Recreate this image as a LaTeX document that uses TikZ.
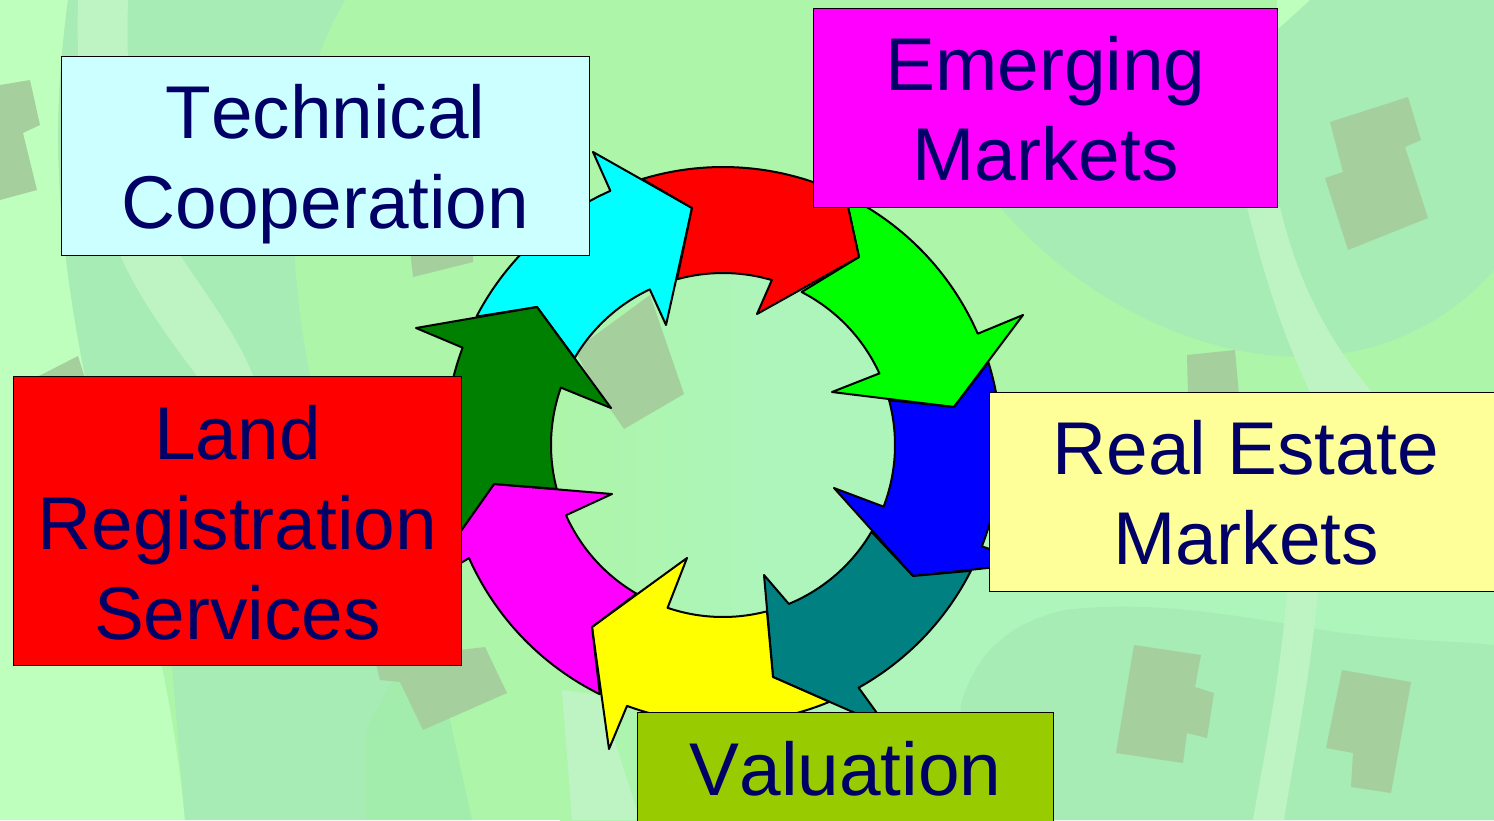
\documentclass[tikz,border=0pt]{standalone}
\usepackage{fontspec}
\setmainfont[Kerning=Off]{Liberation Sans}
\usetikzlibrary{calc}
\definecolor{bgbase}{HTML}{ADF5A9}
\definecolor{bgcentre}{HTML}{ADF5BA}
\definecolor{bglight}{HTML}{BEFFBE}
\definecolor{bglawn}{HTML}{A7EBB5}
\definecolor{bglawnb}{HTML}{A2EDAC}
\definecolor{bgroad}{HTML}{BEF3C4}
\definecolor{bghouse}{HTML}{A6CF9E}
\definecolor{ink}{HTML}{000066}
\definecolor{boxcyan}{HTML}{CCFFFF}
\definecolor{boxyellow}{HTML}{FFFF99}
\definecolor{boxolive}{HTML}{99CC00}
\definecolor{purered}{HTML}{FF0000}
\definecolor{puregreen}{HTML}{00FF00}
\definecolor{pureblue}{HTML}{0000FF}
\definecolor{purecyan}{HTML}{00FFFF}
\definecolor{puremagenta}{HTML}{FF00FF}
\definecolor{pureyellow}{HTML}{FFFF00}
\definecolor{darkgrn}{HTML}{008000}
\definecolor{tealc}{HTML}{008080}
\tikzset{
  arrowshape/.style={draw=black,line width=1pt,line join=round},
  house/.style={fill=bghouse,draw=none},
  labelbox/.style={draw=black,line width=.5pt,inner sep=0pt,outer sep=0pt,text=ink,
    font=\fontsize{37.4}{45}\selectfont,align=center},
}
\newcommand{\boxtext}[2]{\raisebox{#1}[0pt][0pt]{\begin{tabular}[t]{@{}c@{}}#2\end{tabular}}}
\def\rO{278}
\def\rI{172}
\begin{document}
\begin{tikzpicture}[x=.5pt,y=-.5pt]
\useasboundingbox (0,0) rectangle (1494,820);
\clip (0,0) rectangle (1494,820);
% background
\fill[bgbase] (0,0) rectangle (1494,820);
\fill[bgcentre] (760,270) -- (880,330) -- (990,420) -- (1494,560) -- (1494,820) -- (760,820) -- cycle;
\shade[left color=bgbase,right color=bgcentre] (560,270) rectangle (761,820);
\fill[bglight] (0,0) -- (68,0) .. controls (55,100) and (50,200) .. (85,376) .. controls (120,520) and (165,620) .. (185,820) -- (0,820) -- cycle;
% lawns
\fill[bglawn] (68,0) -- (345,0) .. controls (310,60) and (270,170) .. (310,376) -- (310,520) -- (85,376) .. controls (50,200) and (55,100) .. (68,0) -- cycle;
\fill[bglawn] (172,665) -- (400,665) -- (368,730) -- (366,820) -- (185,820) -- cycle;
\fill[bglawnb] (366,730) -- (400,665) -- (450,720) -- (472,820) -- (366,820) -- cycle;
\fill[bglawn] (1000,207) .. controls (1080,300) and (1190,350) .. (1280,356) .. controls (1380,362) and (1450,320) .. (1494,270) -- (1494,0) -- (1310,0) .. controls (1290,15) and (1280,25) .. (1277,30) -- (1277,207) -- cycle;
\fill[bglawn] (961,703) .. controls (975,660) and (1000,625) .. (1065,610) .. controls (1150,600) and (1230,615) .. (1294,625) .. controls (1370,640) and (1440,640) .. (1494,645) -- (1494,820) -- (960,820) -- cycle;
\fill[bglight] (1277,0) -- (1310,0) -- (1277,30) -- cycle;
% roads
\fill[bgroad] (78,0) -- (128,0) .. controls (125,100) and (135,180) .. (180,255) .. controls (210,300) and (240,340) .. (253,376) -- (197,376) .. controls (170,340) and (140,300) .. (120,255) .. controls (90,180) and (75,100) .. (78,0) -- cycle;
\fill[bgroad] (1247,207) -- (1280,207) .. controls (1295,270) and (1320,330) .. (1372,392) -- (1310,392) .. controls (1285,340) and (1265,280) .. (1247,207) -- cycle;
\fill[bgroad] (1287,591) -- (1318,591) .. controls (1310,680) and (1295,750) .. (1284,820) -- (1253,820) .. controls (1265,750) and (1280,680) .. (1287,591) -- cycle;
\fill[bgroad] (562,690) -- (600,695) -- (640,820) -- (572,820) -- cycle;
% houses
\fill[house] (0,85) -- (30,80) -- (40,125) -- (23,133) -- (37,190) -- (0,200) -- cycle;
\fill[house] (410,250) -- (473,250) -- (473,262) -- (413,277) -- cycle;
\fill[house] (35,378) -- (78,356) -- (85,378) -- cycle;
\fill[house] (375,660) -- (485,647) -- (507,693) -- (423,730) -- (400,682) -- (380,680) -- cycle;
\fill[house] (575,350) -- (650,295) -- (684,394) -- (624,429) -- (590,380) -- cycle;
\fill[house] (1330,122) -- (1408,97) -- (1421,140) -- (1405,147) -- (1428,218) -- (1348,250) -- (1325,178) -- (1343,172) -- cycle;
\fill[house] (1187,355) -- (1235,350) -- (1239,395) -- (1188,395) -- cycle;
\fill[house] (1134,645) -- (1201,655) -- (1195,687) -- (1214,693) -- (1207,738) -- (1187,733) -- (1183,763) -- (1116,753) -- cycle;
\fill[house] (1342,670) -- (1411,682) -- (1391,793) -- (1351,787) -- (1353,753) -- (1326,748) -- cycle;
% ring of arrows
\coordinate (C) at (723,445);
\filldraw[arrowshape,fill=purecyan] ($(C)+(-152.5:\rO)$) arc[start angle=-152.5,end angle=-113.9,radius=\rO]
  -- (593,152) -- (692,208) -- (666,325) -- ($(C)+(-115.2:\rI)$) arc[start angle=-115.2,end angle=-149.6,radius=\rI]
  -- (537,307) -- cycle;
\filldraw[arrowshape,fill=puregreen] ($(C)+(-62.8:\rI)$) arc[start angle=-62.8,end angle=-24.6,radius=\rI]
  -- (832,392) -- (954,407) -- (1023,315) -- ($(C)+(-23.6:\rO)$) arc[start angle=-23.6,end angle=-62,radius=\rO]
  -- (840,170) -- (859,257) -- cycle;
\filldraw[arrowshape,fill=purered] ($(C)+(-106.9:\rO)$) arc[start angle=-106.9,end angle=-67.9,radius=\rO]
  -- (840,170) -- (859,257) -- (757,314) -- ($(C)+(-73.5:\rI)$) arc[start angle=-73.5,end angle=-105.5,radius=\rI]
  -- (692,208) -- cycle;
\filldraw[arrowshape,fill=pureblue] ($(C)+(-15.1:\rI)$) arc[start angle=-15.1,end angle=21,radius=\rI]
  -- (834,488) -- (913,576) -- (1034,563) -- ($(C)+(21.4:\rO)$) arc[start angle=21.4,end angle=-17.3,radius=\rO]
  -- (954,407) -- cycle;
\filldraw[arrowshape,fill=tealc] ($(C)+(30.3:\rI)$) arc[start angle=30.3,end angle=67.5,radius=\rI]
  -- (764,575) -- (773,677) -- (887,727) -- ($(C)+(60.8:\rO)$) arc[start angle=60.8,end angle=26.9,radius=\rO]
  -- (913,576) -- cycle;
\filldraw[arrowshape,fill=pureyellow] ($(C)+(75.2:\rI)$) arc[start angle=75.2,end angle=108.8,radius=\rI]
  -- (687,558) -- (592,627) -- (609,749) -- ($(C)+(110.2:\rO)$) arc[start angle=110.2,end angle=67.5,radius=\rO]
  -- (773,677) -- cycle;
\filldraw[arrowshape,fill=puremagenta] ($(C)+(120.2:\rI)$) arc[start angle=120.2,end angle=155.9,radius=\rI]
  -- (612,494) -- (494,484) -- (421,587) -- ($(C)+(156:\rO)$) arc[start angle=156,end angle=116.3,radius=\rO]
  -- (592,627) -- cycle;
\filldraw[arrowshape,fill=darkgrn] ($(C)+(165.2:\rI)$) arc[start angle=165.2,end angle=199.5,radius=\rI]
  -- (611,408) -- (537,307) -- (416,328) -- ($(C)+(200.5:\rO)$) arc[start angle=200.5,end angle=161.5,radius=\rO]
  -- (494,484) -- cycle;
% labels
\node[labelbox,fill=boxcyan,minimum width=264pt,minimum height=99.5pt] (tech) at (325.5,155.5)
  {\boxtext{8.75pt}{Technical\\Cooperation}};
\node[labelbox,fill=puremagenta,minimum width=232pt,minimum height=99.25pt] (emerging) at (1045.5,107.75)
  {\boxtext{8.4pt}{Emerging\\Markets}};
\node[labelbox,fill=boxyellow,minimum width=256.5pt,minimum height=99.5pt] (estate) at (1246,491.5)
  {\boxtext{8.75pt}{Real Estate\\Markets}};
\node[labelbox,fill=boxolive,minimum width=208pt,minimum height=59pt] (valuation) at (845.5,771)
  {\boxtext{-12pt}{Valuation}};
\node[labelbox,fill=purered,minimum width=224pt,minimum height=144.5pt] (land) at (237.5,520.5)
  {\boxtext{30.75pt}{Land\\Registration\\Services}};
\end{tikzpicture}
\end{document}
